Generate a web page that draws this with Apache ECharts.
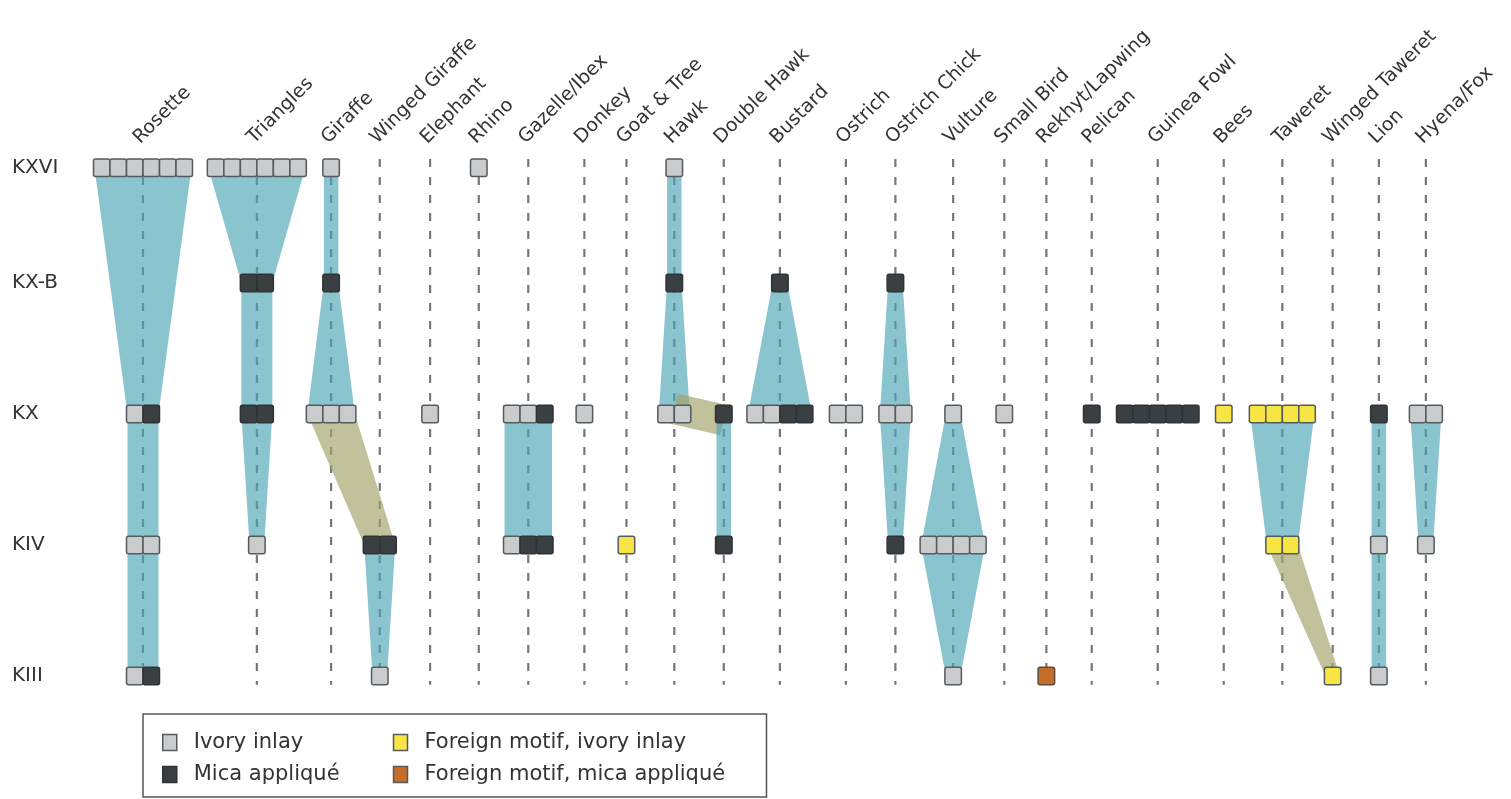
<!DOCTYPE html>
<html>
<head>
<meta charset="utf-8">
<title>Motif continuity by phase</title>
<script src="https://cdn.jsdelivr.net/npm/echarts@6/dist/echarts.min.js"></script>
<style>
  html, body { margin: 0; padding: 0; background: #fff; }
  #chart { width: 1511px; height: 799px; }
</style>
</head>
<body>
<div id="chart"></div>
<script>
// Motifs (columns) and their centres along the horizontal axis, in square-widths
const motifs = ['Rosette', 'Triangles', 'Giraffe', 'Winged Giraffe', 'Elephant', 'Rhino',
  'Gazelle/Ibex', 'Donkey', 'Goat & Tree', 'Hawk', 'Double Hawk', 'Bustard', 'Ostrich',
  'Ostrich Chick', 'Vulture', 'Small Bird', 'Rekhyt/Lapwing', 'Pelican', 'Guinea Fowl',
  'Bees', 'Taweret', 'Winged Taweret', 'Lion', 'Hyena/Fox'];
const motifPos = [0, 6.9, 11.4, 14.35, 17.4, 20.35, 23.35, 26.75, 29.3, 32.2, 35.2, 38.6,
  42.6, 45.6, 49.1, 52.2, 54.75, 57.5, 61.5, 65.5, 69.05, 72.1, 74.9, 77.75];

// Phases (rows), oldest at the bottom
const phases = ['KXVI', 'KX-B', 'KX', 'KIV', 'KIII'];
const phasePos = [3.88, 3, 2, 1, 0];

// Objects per motif and phase: i = ivory inlay, m = mica appliqué,
// f = foreign motif in ivory, o = foreign motif in mica
const cells = [
  ['Rosette', 'KXVI', 'iiiiii'], ['Rosette', 'KX', 'im'], ['Rosette', 'KIV', 'ii'], ['Rosette', 'KIII', 'im'],
  ['Triangles', 'KXVI', 'iiiiii'], ['Triangles', 'KX-B', 'mm'], ['Triangles', 'KX', 'mm'], ['Triangles', 'KIV', 'i'],
  ['Giraffe', 'KXVI', 'i'], ['Giraffe', 'KX-B', 'm'], ['Giraffe', 'KX', 'iii'],
  ['Winged Giraffe', 'KIV', 'mm'], ['Winged Giraffe', 'KIII', 'i'],
  ['Elephant', 'KX', 'i'],
  ['Rhino', 'KXVI', 'i'],
  ['Gazelle/Ibex', 'KX', 'iim'], ['Gazelle/Ibex', 'KIV', 'imm'],
  ['Donkey', 'KX', 'i'],
  ['Goat & Tree', 'KIV', 'f'],
  ['Hawk', 'KXVI', 'i'], ['Hawk', 'KX-B', 'm'], ['Hawk', 'KX', 'ii'],
  ['Double Hawk', 'KX', 'm'], ['Double Hawk', 'KIV', 'm'],
  ['Bustard', 'KX-B', 'm'], ['Bustard', 'KX', 'iimm'],
  ['Ostrich', 'KX', 'ii'],
  ['Ostrich Chick', 'KX-B', 'm'], ['Ostrich Chick', 'KX', 'ii'], ['Ostrich Chick', 'KIV', 'm'],
  ['Vulture', 'KX', 'i'], ['Vulture', 'KIV', 'iiii'], ['Vulture', 'KIII', 'i'],
  ['Small Bird', 'KX', 'i'],
  ['Rekhyt/Lapwing', 'KIII', 'o'],
  ['Pelican', 'KX', 'm'],
  ['Guinea Fowl', 'KX', 'mmmmm'],
  ['Bees', 'KX', 'f'],
  ['Taweret', 'KX', 'ffff'], ['Taweret', 'KIV', 'ff'],
  ['Winged Taweret', 'KIII', 'f'],
  ['Lion', 'KX', 'm'], ['Lion', 'KIV', 'i'], ['Lion', 'KIII', 'i'],
  ['Hyena/Fox', 'KX', 'ii'], ['Hyena/Fox', 'KIV', 'i']
];

// Continuity bands: [motif, phase] -> [motif, phase]
const continuity = [
  ['Rosette', 'KXVI', 'Rosette', 'KX'], ['Rosette', 'KX', 'Rosette', 'KIV'], ['Rosette', 'KIV', 'Rosette', 'KIII'],
  ['Triangles', 'KXVI', 'Triangles', 'KX-B'], ['Triangles', 'KX-B', 'Triangles', 'KX'], ['Triangles', 'KX', 'Triangles', 'KIV'],
  ['Giraffe', 'KXVI', 'Giraffe', 'KX-B'], ['Giraffe', 'KX-B', 'Giraffe', 'KX'],
  ['Giraffe', 'KX', 'Winged Giraffe', 'KIV'],
  ['Winged Giraffe', 'KIV', 'Winged Giraffe', 'KIII'],
  ['Gazelle/Ibex', 'KX', 'Gazelle/Ibex', 'KIV'],
  ['Hawk', 'KXVI', 'Hawk', 'KX-B'], ['Hawk', 'KX-B', 'Hawk', 'KX'],
  ['Hawk', 'KX', 'Double Hawk', 'KX'],
  ['Double Hawk', 'KX', 'Double Hawk', 'KIV'],
  ['Bustard', 'KX-B', 'Bustard', 'KX'],
  ['Ostrich Chick', 'KX-B', 'Ostrich Chick', 'KX'], ['Ostrich Chick', 'KX', 'Ostrich Chick', 'KIV'],
  ['Vulture', 'KX', 'Vulture', 'KIV'], ['Vulture', 'KIV', 'Vulture', 'KIII'],
  ['Taweret', 'KX', 'Taweret', 'KIV'],
  ['Taweret', 'KIV', 'Winged Taweret', 'KIII'],
  ['Lion', 'KX', 'Lion', 'KIV'], ['Lion', 'KIV', 'Lion', 'KIII'],
  ['Hyena/Fox', 'KX', 'Hyena/Fox', 'KIV']
];

const FONT = 'DejaVu Sans';
const TEXT = '#333';
const TEAL = 'rgba(74,165,181,0.65)';
const OLIVE = 'rgba(163,163,107,0.68)';
const CELL_ASPECT = 1.06;

const materials = [
  { code: 'i', name: 'Ivory inlay', fill: '#c9cbcd', stroke: '#555a5c' },
  { code: 'm', name: 'Mica appliqué', fill: '#3a3f41', stroke: '#2f3335' },
  { code: 'f', name: 'Foreign motif, ivory inlay', fill: '#f7e445', stroke: '#555a5c' },
  { code: 'o', name: 'Foreign motif, mica appliqué', fill: '#c46e2a', stroke: '#5f4a36' }
];

const xOf = m => motifPos[motifs.indexOf(m)];
const yOf = p => phasePos[phases.indexOf(p)];
const cellCode = (m, p) => cells.find(c => c[0] === m && c[1] === p)[2];

// one entry per square: [x, y, slot, count]
const pieces = {};
materials.forEach(t => { pieces[t.code] = []; });
cells.forEach(([m, p, code]) => {
  code.split('').forEach((c, k) => pieces[c].push([xOf(m), yOf(p), k, code.length]));
});

const bandData = continuity.map(([m1, p1, m2, p2]) => [
  xOf(m1), yOf(p1), cellCode(m1, p1).length,
  xOf(m2), yOf(p2), cellCode(m2, p2).length,
  m1 === m2 ? 0 : 1
]);

const topPhase = Math.max(...phasePos);
const bottomPhase = Math.min(...phasePos);

function renderGuide(params, api) {
  const x = api.value(0);
  const a = api.coord([x, topPhase]);
  const b = api.coord([x, bottomPhase]);
  const h = api.size([1, 0])[0] * CELL_ASPECT;
  const shape = { x1: a[0], y1: a[1] - h / 2, x2: b[0], y2: b[1] + h / 2 };
  return {
    type: 'group',
    children: [
      { type: 'line', shape, style: { stroke: '#ffffff', lineWidth: 1.2 } },
      { type: 'line', shape, style: { stroke: '#777', lineWidth: 2.2, lineDash: [8, 10] } }
    ]
  };
}

function renderBand(params, api) {
  const a = api.coord([api.value(0), api.value(1)]);
  const b = api.coord([api.value(3), api.value(4)]);
  const u = api.size([1, 0])[0];
  const w1 = api.value(2) * u - 2;
  const w2 = api.value(5) * u - 2;
  let pts;
  if (Math.abs(a[1] - b[1]) < 1) {
    // band between two motifs of the same phase
    const h = u * CELL_ASPECT;
    const s = [a[0], a[1] - 0.3 * h];
    const t = [b[0], b[1] + 0.35 * h];
    const dx = t[0] - s[0], dy = t[1] - s[1];
    const len = Math.hypot(dx, dy);
    const nx = -dy / len * w1 / 2, ny = dx / len * w1 / 2;
    pts = [[s[0] + nx, s[1] + ny], [t[0] + nx, t[1] + ny], [t[0] - nx, t[1] - ny], [s[0] - nx, s[1] - ny]];
  } else {
    pts = [[a[0] - w1 / 2, a[1]], [a[0] + w1 / 2, a[1]], [b[0] + w2 / 2, b[1]], [b[0] - w2 / 2, b[1]]];
  }
  return { type: 'polygon', shape: { points: pts }, style: { fill: api.value(6) ? OLIVE : TEAL } };
}

function pieceRenderer(mat) {
  return function (params, api) {
    const c = api.coord([api.value(0), api.value(1)]);
    const u = api.size([1, 0])[0];
    const h = u * CELL_ASPECT;
    const n = api.value(3), k = api.value(2);
    return {
      type: 'rect',
      shape: { x: c[0] - n * u / 2 + k * u, y: c[1] - h / 2, width: u, height: h, r: 2 },
      style: { fill: mat.fill, stroke: mat.stroke, lineWidth: 1.5 }
    };
  };
}

const nearestIndex = (arr, v) => {
  let best = 0;
  arr.forEach((a, i) => { if (Math.abs(a - v) < Math.abs(arr[best] - v)) best = i; });
  return best;
};

const series = [
  {
    type: 'custom', name: 'guides', z: 1, silent: true,
    data: motifPos.map(x => [x]),
    renderItem: renderGuide
  },
  {
    type: 'custom', name: 'continuity', z: 2, silent: true,
    data: bandData,
    renderItem: renderBand
  }
].concat(materials.map(mat => ({
  type: 'custom', name: mat.name, z: 3,
  data: pieces[mat.code],
  itemStyle: { color: mat.fill },
  renderItem: pieceRenderer(mat)
})));

const legendText = { fontFamily: FONT, fontSize: 21, color: TEXT, lineHeight: 25 };

const option = {
  backgroundColor: '#fff',
  animation: false,
  grid: { left: 93.5, right: 15, top: 152, bottom: 57.5, outerBoundsMode: 'none', containLabel: false },
  xAxis: {
    type: 'value', position: 'top', min: -3, max: 82,
    axisLine: { show: false }, axisTick: { show: false }, splitLine: { show: false },
    axisLabel: {
      customValues: motifPos,
      formatter: v => motifs[nearestIndex(motifPos, v)],
      rotate: 45, margin: 5, verticalAlign: 'bottom', lineHeight: 18,
      showMinLabel: true, showMaxLabel: true, hideOverlap: false,
      fontFamily: FONT, fontSize: 19, color: TEXT
    }
  },
  yAxis: {
    type: 'value', min: -0.5, max: 4,
    axisLine: { show: false }, axisTick: { show: false }, splitLine: { show: false },
    axisLabel: {
      customValues: phasePos,
      formatter: v => phases[nearestIndex(phasePos, v)],
      showMinLabel: true, showMaxLabel: true,
      align: 'left', margin: 81.5,
      fontFamily: FONT, fontSize: 20, color: TEXT
    }
  },
  legend: {
    orient: 'vertical', left: 143, top: 714, height: 60,
    padding: [16, 22, 10, 19], itemGap: 7,
    itemWidth: 14, itemHeight: 16,
    selectedMode: false,
    borderColor: '#555', borderWidth: 1.5, backgroundColor: '#fff',
    data: materials.map(mat => ({
      name: mat.name,
      icon: 'rect',
      itemStyle: { color: mat.fill, borderColor: mat.code === 'm' ? '#2f3335' : '#555a5c', borderWidth: 1.5 }
    })),
    formatter: name => {
      const firstColumn = name === materials[0].name || name === materials[1].name;
      return '{g| }' + (firstColumn ? '{c1|' : '{c2|') + name + '}';
    },
    textStyle: Object.assign({}, legendText, {
      rich: {
        g: Object.assign({}, legendText, { width: 12 }),
        c1: Object.assign({}, legendText, { width: 192 }),
        c2: Object.assign({}, legendText, { width: 320 })
      }
    })
  },
  series
};

const chart = echarts.init(document.getElementById('chart'));
chart.setOption(option);
</script>
</body>
</html>
